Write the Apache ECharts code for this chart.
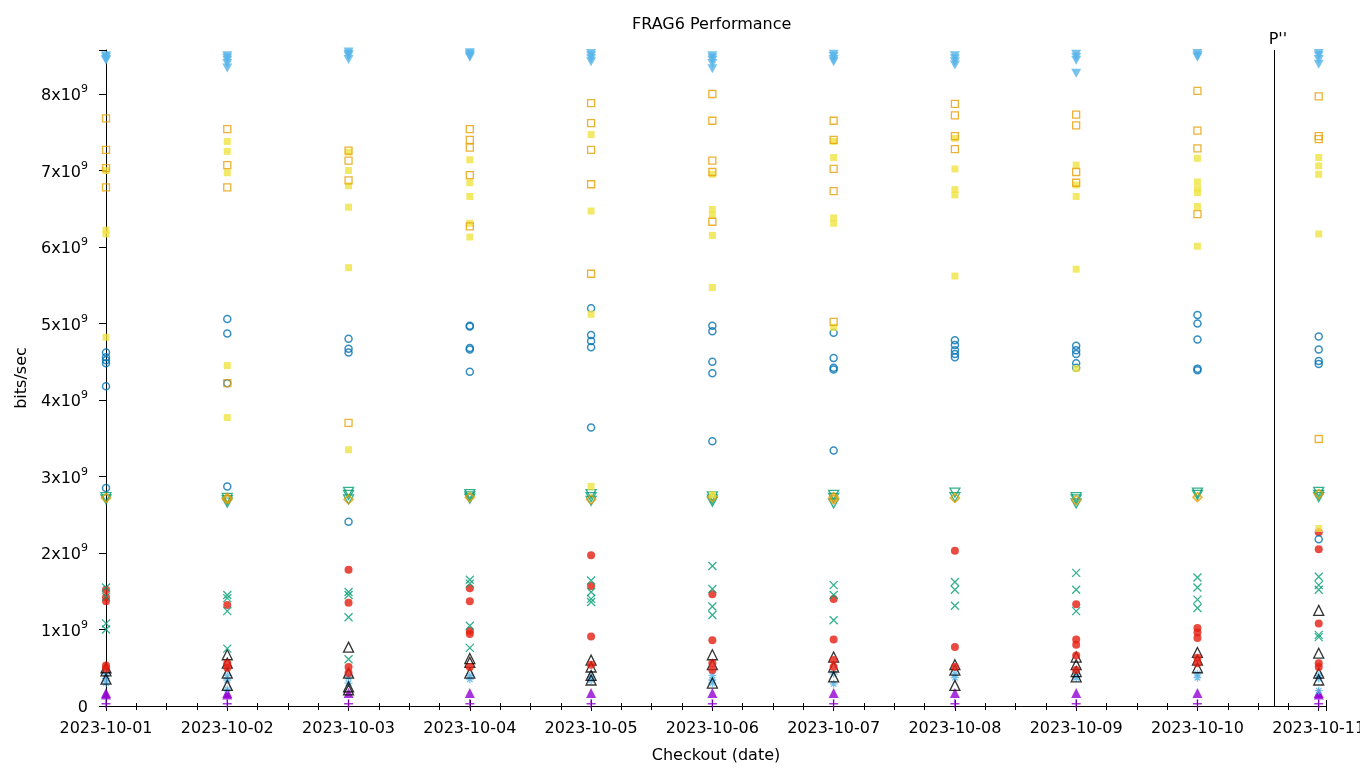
<!DOCTYPE html>
<html>
<head>
<meta charset="utf-8">
<script src="https://cdn.jsdelivr.net/npm/echarts@6/dist/echarts.min.js"></script>
<style>html,body{margin:0;padding:0;background:#fff}#c{width:1360px;height:768px}</style>
</head>
<body>
<div id="c"></div>
<script>
// Checkout dates (x categories, one per day)
const dates = ['2023-10-01','2023-10-02','2023-10-03','2023-10-04','2023-10-05','2023-10-06','2023-10-07','2023-10-08','2023-10-09','2023-10-10','2023-10-11'];
// Marker position for P'' (days after 2023-10-01)
const markerDay = 9.627;
const markerLabel = "P''";
// values in units of 1e9 bits/sec, one list per checkout date
const lightBlueTriDown = [
 [8.50,8.48,8.45,8.44],[8.50,8.47,8.44,8.40,8.34],[8.55,8.52,8.50,8.45],[8.54,8.52,8.50,8.48],
 [8.53,8.50,8.46,8.42],[8.50,8.47,8.44,8.40,8.33],[8.52,8.49,8.45,8.42],[8.50,8.46,8.42,8.38],
 [8.52,8.48,8.44,8.27],[8.53,8.50,8.48],[8.53,8.50,8.45,8.39]];
const orangeSquare = [
 [7.68,7.27,7.03,6.78],[7.54,7.07,6.78,4.22],[7.26,7.13,6.87,3.70],[7.54,7.40,7.30,6.94,6.27],
 [7.88,7.62,7.27,6.82,5.65],[8.00,7.65,7.13,6.98,6.33],[7.65,7.40,7.02,6.73,5.02],[7.87,7.72,7.45,7.28],
 [7.73,7.59,6.98,6.84],[8.04,7.52,7.29,6.43],[7.97,7.45,7.41,3.49]];
const yellowSquare = [
 [7.00,6.22,6.17,4.82],[7.38,7.25,6.97,4.45,3.77],[7.24,7.00,6.80,6.52,5.73,3.35],[7.14,6.84,6.66,6.31,6.13],
 [7.47,6.47,5.12,2.87],[6.95,6.49,6.42,6.15,5.47,2.76],[7.38,7.17,6.38,6.31,4.95],[7.42,7.02,6.75,6.68,5.62],
 [7.07,6.81,6.66,5.71,4.41],[7.16,6.85,6.76,6.71,6.53,6.01],[7.17,7.06,6.95,6.17,2.32]];
const blueCircle = [
 [4.62,4.56,4.52,4.48,4.18,2.85],[5.06,4.87,4.22,2.87],[4.80,4.67,4.62,2.41],[4.97,4.96,4.68,4.66,4.37],
 [5.20,4.85,4.77,4.69,3.64],[4.97,4.90,4.50,4.35,3.46],[4.88,4.55,4.42,4.40,3.34],[4.78,4.72,4.65,4.60,4.56],
 [4.71,4.65,4.60,4.48,4.42],[5.11,5.00,4.79,4.41,4.39],[4.83,4.66,4.51,4.47,2.18]];
const greenTriDown = [
 [2.73,2.70],[2.72,2.69,2.66],[2.80,2.76,2.70],[2.77,2.74,2.71],[2.77,2.73,2.68],[2.74,2.70,2.67],
 [2.76,2.72,2.65],[2.79,2.73],[2.73,2.70,2.65],[2.79,2.76],[2.80,2.76,2.73]];
const orangeDiamond = [
 [2.72],[2.72,2.70],[2.70],[2.73],[2.70],[2.73],[2.73,2.70],[2.72],[2.69],[2.73],[2.77]];
const redCircle = [
 [1.52,1.42,1.37,0.53,0.49],[1.32,0.56,0.50],[1.78,1.35,0.51,0.43],[1.54,1.37,0.98,0.94,0.51],
 [1.97,1.57,0.91,0.54],[1.46,0.86,0.56,0.47],[1.40,0.87,0.60,0.51],[2.03,0.77,0.51],
 [1.33,0.87,0.80,0.66,0.47],[1.02,0.96,0.89,0.63,0.56],[2.27,2.05,1.08,0.56,0.51]];
const greenCross = [
 [1.55,1.43,1.08,1.00],[1.45,1.41,1.24,0.75],[1.49,1.45,1.16,0.61],[1.65,1.60,1.05,0.76],
 [1.64,1.49,1.40,1.36],[1.83,1.53,1.30,1.19],[1.58,1.45,1.12],[1.62,1.52,1.31],
 [1.74,1.52,1.24],[1.68,1.55,1.39,1.28],[1.69,1.58,1.52,0.93,0.90]];
const blackTriUp = [
 [0.50,0.46,0.35],[0.67,0.56,0.43,0.27],[0.77,0.43,0.25,0.21],[0.62,0.57,0.43],[0.60,0.51,0.40,0.34],
 [0.67,0.54,0.30],[0.64,0.51,0.38],[0.54,0.47,0.27],[0.64,0.54,0.45,0.38],[0.70,0.60,0.50],[1.25,0.69,0.43,0.34]];
const lightBlueStar = [
 [0.42,0.36,0.30],[0.40,0.34,0.22],[0.38,0.30],[0.40,0.35],[0.38,0.34],[0.40,0.34,0.30],
 [0.42,0.29],[0.42,0.37],[0.42,0.37],[0.42,0.37],[0.40,0.36,0.20]];
const purpleTriUp = [
 [0.17,0.15],[0.17,0.15],[0.17],[0.17],[0.17],[0.17],[0.17],[0.17],[0.17],[0.17],[0.17,0.15]];
const purplePlus = [
 [0.03],[0.03],[0.03],[0.03],[0.03],[0.03],[0.03],[0.03],[0.03],[0.03],[0.03]];

function pts(arr){ const out=[]; arr.forEach((vals,i)=>vals.forEach(v=>out.push([i,v]))); return out; }

const FONT = 'DejaVu Sans';
const SYM = {
  cross: 'path://M0,0L10,10M10,0L0,10',
  plus: 'path://M5,0L5,10M0,5L10,5',
  star: 'path://M5,0L5,10M0,5L10,5M1.5,1.5L8.5,8.5M8.5,1.5L1.5,8.5',
  triDown: 'path://M0,0L10,0L5,9Z'
};
function ser(name, data, symbol, size, color, filled, bw){
  return {
    name, type:'scatter', data: pts(data), symbol, symbolSize: size,
    itemStyle: filled ? {color: color, borderWidth: 0} : {color:'transparent', borderColor: color, borderWidth: bw || 1.3},
    emphasis:{disabled:true}, silent:true, z: 2
  };
}
const series = [
  ser('plus', purplePlus, SYM.plus, 9, '#9400D3', false, 1.5),
  ser('ptri', purpleTriUp, 'triangle', 10, '#9400D3', true),
  ser('lbstar', lightBlueStar, SYM.star, 8, '#56B4E9', false),
  ser('btri', blackTriUp, 'triangle', 10, '#000000', false),
  ser('red', redCircle, 'circle', 8, '#E51E10', true),
  ser('gx', greenCross, SYM.cross, 8, '#009E73', false),
  ser('gtd', greenTriDown, SYM.triDown, [10,9], '#009E73', false),
  ser('od', orangeDiamond, 'diamond', 9, '#E69F00', false, 1.6),
  ser('bc', blueCircle, 'circle', 7, '#0072B2', false, 1.5),
  ser('ys', yellowSquare, 'rect', 7, '#F0E442', true),
  ser('os', orangeSquare, 'rect', 7, '#E69F00', false),
  ser('lbtd', lightBlueTriDown, SYM.triDown, [10,9], '#56B4E9', true)
];
series[0].markLine = {
  silent:true, symbol:['none','none'],
  lineStyle:{color:'#000', width:1, type:'solid'},
  label:{show:true, position:'end', formatter: markerLabel, color:'#000', fontFamily: FONT, fontSize:16, distance: 2, offset:[4,0]},
  data:[{xAxis: markerDay}]
};

const chart = echarts.init(document.getElementById('c'), null, {renderer:'canvas'});
chart.setOption({
  animation:false,
  backgroundColor:'#fff',
  title:{text:'FRAG6 Performance', left:627, top:12, textStyle:{fontFamily:FONT, fontSize:16, fontWeight:'normal', color:'#000'}},
  grid:{left:106, right:34, top:50, bottom:62, containLabel:false, outerBoundsMode:'none'},
  xAxis:[{
    type:'value', min:0, max:10.06, interval:1,
    name:'Checkout (date)', nameLocation:'middle', nameGap:42,
    nameTextStyle:{fontFamily:FONT, fontSize:16, color:'#000'},
    axisLine:{show:true, onZero:false, lineStyle:{color:'#000', width:1}},
    axisTick:{show:true, length:5, lineStyle:{color:'#000'}},
    minorTick:{show:true, splitNumber:4, length:4, lineStyle:{color:'#000'}},
    splitLine:{show:false},
    axisLabel:{margin:15, fontFamily:FONT, fontSize:16, color:'#000', showMaxLabel:true, hideOverlap:false,
      formatter: v => (Math.abs(v-Math.round(v))<1e-6 && dates[Math.round(v)]) ? dates[Math.round(v)] : ''}
  },{
    type:'value', position:'top', min:0, max:10.06, interval:1,
    axisLine:{show:false},
    axisTick:{show:true, length:6, lineStyle:{color:'#000'}},
    minorTick:{show:true, splitNumber:4, length:3, lineStyle:{color:'#000'}},
    splitLine:{show:false}, axisLabel:{show:false}
  }],
  yAxis:[{
    type:'value', min:0, max:8.575, interval:1,
    name:'bits/sec', nameLocation:'middle', nameGap:66, nameRotate:90,
    nameTextStyle:{fontFamily:FONT, fontSize:16, color:'#000'},
    axisLine:{show:true, lineStyle:{color:'#000', width:1}},
    axisTick:{show:true, length:6, lineStyle:{color:'#000'}},
    splitLine:{show:false},
    axisLabel:{margin:18, fontFamily:FONT, fontSize:16, color:'#000', showMaxLabel:false,
      formatter: v => v===0 ? '{n|0}' : (Number.isInteger(v) ? '{n|'+v+'x10}{s|9}' : ''),
      rich:{ n:{fontFamily:FONT, fontSize:16, color:'#000', lineHeight:20, verticalAlign:'bottom'},
             s:{fontFamily:FONT, fontSize:11, color:'#000', lineHeight:20, verticalAlign:'top', padding:[0,0,6,0]} }
    }
  },{
    type:'value', position:'right', min:0, max:8.575, interval:1,
    axisLine:{show:false},
    axisTick:{show:true, inside:true, length:7, lineStyle:{color:'#000'}},
    splitLine:{show:false}, axisLabel:{show:false}
  }],
  series
});
</script>
</body>
</html>
